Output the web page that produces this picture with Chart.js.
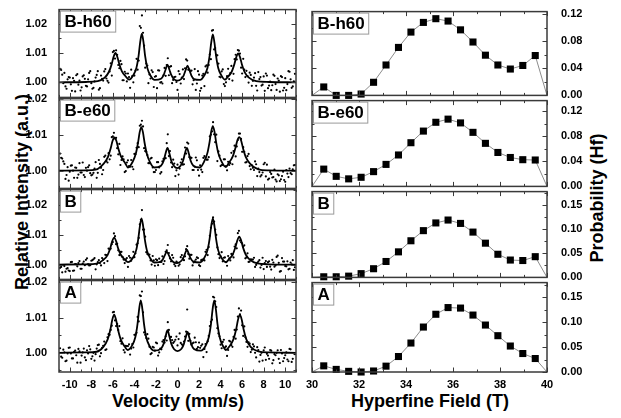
<!DOCTYPE html>
<html>
<head>
<meta charset="utf-8">
<script src="https://cdn.jsdelivr.net/npm/chart.js@4.4.1/dist/chart.umd.min.js"></script>
<style>
  body { margin: 0; background: #fff; font-family: "Liberation Sans", Arial, sans-serif; }
  #page { position: relative; width: 621px; height: 418px; overflow: hidden; }
  canvas { position: absolute; }
  .title { position: absolute; font-weight: bold; font-size: 18px; line-height: 18px; white-space: nowrap; transform: translate(-50%, -50%); }
  .title.rot { transform: translate(-50%, -50%) rotate(-90deg); }
</style>
</head>
<body>
<div id="page">
  <div class="title rot" style="left:22px;top:192px">Relative Intensity (a.u.)</div>
  <div class="title rot" style="left:597px;top:198px">Probability (Hf)</div>
  <div class="title" style="left:178px;top:401px">Velocity (mm/s)</div>
  <div class="title" style="left:430px;top:401px">Hyperfine Field (T)</div>
</div>
<script>
Chart.defaults.font.family = '"Liberation Sans", Arial, sans-serif';
Chart.defaults.color = '#000';

// samples, top to bottom
const samples = ['B-h60', 'B-e60', 'B', 'A'];

// Mossbauer spectra: measured points (mm/s, relative intensity), two interleaved channel sets
const velocity = [-10.9,-10.7,-10.5,-10.3,-10.1,-9.9,-9.7,-9.5,-9.3,-9.1,-8.9,-8.7,-8.5,-8.3,-8.1,-7.9,-7.7,-7.5,-7.3,-7.1,
  -6.9,-6.7,-6.5,-6.3,-6.1,-5.9,-5.7,-5.5,-5.3,-5.1,-4.9,-4.7,-4.5,-4.3,-4.1,-3.9,-3.7,-3.5,-3.3,-3.1,
  -2.9,-2.7,-2.5,-2.3,-2.1,-1.9,-1.7,-1.5,-1.3,-1.1,-0.9,-0.7,-0.5,-0.3,-0.1,0.1,0.3,0.5,0.7,0.9,
  1.1,1.3,1.5,1.7,1.9,2.1,2.3,2.5,2.7,2.9,3.1,3.3,3.5,3.7,3.9,4.1,4.3,4.5,4.7,4.9,
  5.1,5.3,5.5,5.7,5.9,6.1,6.3,6.5,6.7,6.9,7.1,7.3,7.5,7.7,7.9,8.1,8.3,8.5,8.7,8.9,
  9.1,9.3,9.5,9.7,9.9,10.1,10.3,10.5,10.7,10.9];
const velocityMid = [-10.8,-10.6,-10.4,-10.2,-10,-9.8,-9.6,-9.4,-9.2,-9,
  -8.8,-8.6,-8.4,-8.2,-8,-7.8,-7.6,-7.4,-7.2,-7,
  -6.8,-6.6,-6.4,-6.2,-6,-5.8,-5.6,-5.4,-5.2,-5,
  -4.8,-4.6,-4.4,-4.2,-4,-3.8,-3.6,-3.4,-3.2,-3,
  -2.8,-2.6,-2.4,-2.2,-2,-1.8,-1.6,-1.4,-1.2,-1,
  -0.8,-0.6,-0.4,-0.2,0,0.2,0.4,0.6,0.8,1,
  1.2,1.4,1.6,1.8,2,2.2,2.4,2.6,2.8,3,
  3.2,3.4,3.6,3.8,4,4.2,4.4,4.6,4.8,5,
  5.2,5.4,5.6,5.8,6,6.2,6.4,6.6,6.8,7,
  7.2,7.4,7.6,7.8,8,8.2,8.4,8.6,8.8,9,
  9.2,9.4,9.6,9.8,10,10.2,10.4,10.6,10.8];

const dotsBh60 = [1.0046,1.0026,1.0032,0.9978,1.0018,0.9993,1.0014,0.9969,1.0028,1.0006,
  0.9983,1.0024,0.9988,1.0010,1.0038,0.9978,1.0003,1.0025,0.9975,1.0023,
  1.0006,1.0045,1.0005,1.0037,1.0023,1.0107,1.0109,1.0059,1.0073,1.0007,
  1.0036,1.0003,1.0018,1.0043,1.0000,1.0040,1.0043,1.0192,1.0228,1.0125,
  1.0064,0.9997,1.0013,1.0035,1.0019,0.9980,1.0040,1.0001,1.0024,1.0022,
  1.0082,1.0053,0.9997,1.0018,1.0001,1.0038,0.9996,1.0044,1.0048,1.0074,
  1.0043,1.0040,1.0007,0.9974,1.0038,0.9971,1.0023,0.9987,1.0058,1.0059,
  1.0079,1.0178,1.0117,1.0092,1.0019,1.0037,0.9994,1.0000,1.0046,1.0031,
  1.0006,1.0079,1.0078,1.0108,1.0050,1.0080,1.0018,1.0021,1.0033,0.9988,
  1.0016,0.9988,1.0035,1.0018,0.9992,0.9971,1.0023,0.9989,0.9973,1.0026,
  0.9994,1.0013,0.9968,1.0018,0.9981,0.9973,1.0038,1.0010,0.9986,1.0029];
const dotsMidBh60 = [1.0042,0.9997,0.9986,1.0010,1.0016,0.9971,1.0005,1.0024,0.9992,0.9972,
  1.0020,1.0012,0.9986,1.0032,0.9997,0.9981,1.0016,1.0038,0.9980,1.0012,
  1.0037,1.0013,0.9999,1.0065,1.0103,1.0081,1.0094,1.0048,1.0062,1.0007,
  1.0030,1.0030,0.9981,1.0021,1.0023,1.0080,1.0074,1.0186,1.0169,1.0050,
  1.0057,1.0027,1.0041,0.9984,1.0021,1.0041,0.9999,0.9996,1.0049,1.0059,
  1.0024,1.0055,1.0008,1.0019,0.9974,1.0028,1.0016,1.0011,1.0078,1.0043,
  1.0038,0.9993,1.0045,0.9996,1.0026,0.9980,1.0029,1.0054,1.0033,1.0095,
  1.0176,1.0112,1.0094,1.0064,1.0017,1.0044,0.9987,1.0021,1.0011,1.0056,
  1.0029,1.0094,1.0110,1.0098,1.0030,1.0043,1.0039,0.9999,1.0025,1.0005,
  1.0031,0.9972,1.0011,0.9989,1.0020,1.0030,0.9980,1.0002,0.9990,1.0022,
  0.9974,1.0006,1.0021,0.9972,1.0014,0.9994,1.0036,0.9981,1.0003];

const dotsBe60 = [1.0048,1.0034,1.0019,0.9988,0.9972,1.0014,1.0000,1.0009,0.9980,1.0021,
  0.9995,0.9988,1.0008,1.0010,0.9993,0.9989,1.0006,0.9980,1.0030,1.0008,
  1.0002,1.0042,1.0023,1.0032,1.0094,1.0106,1.0092,1.0046,1.0016,1.0040,
  0.9996,1.0023,1.0013,1.0030,1.0004,1.0046,1.0077,1.0126,1.0140,1.0063,
  1.0053,1.0021,1.0034,1.0009,0.9996,1.0024,1.0009,0.9996,1.0033,1.0035,
  1.0102,1.0055,1.0010,1.0020,1.0001,0.9989,1.0023,1.0017,1.0065,1.0079,
  1.0038,1.0036,1.0002,1.0037,1.0002,1.0015,0.9996,1.0041,1.0031,1.0038,
  1.0101,1.0136,1.0080,1.0027,1.0042,1.0016,1.0032,1.0013,1.0025,1.0021,
  1.0018,1.0070,1.0068,1.0104,1.0089,1.0066,1.0023,1.0041,1.0013,1.0015,
  1.0002,1.0018,1.0006,0.9984,0.9995,1.0022,1.0017,0.9978,0.9991,0.9982,
  0.9975,0.9990,0.9971,0.9985,0.9974,1.0002,0.9982,0.9993,1.0004,1.0016];
const dotsMidBe60 = [1.0036,1.0026,0.9977,1.0010,0.9997,1.0015,0.9980,1.0008,0.9989,0.9995,
  1.0023,0.9982,1.0000,1.0015,0.9987,0.9994,1.0024,0.9994,1.0019,0.9990,
  1.0039,1.0027,1.0049,1.0042,1.0096,1.0090,1.0063,1.0075,1.0030,1.0032,
  0.9999,1.0029,1.0011,1.0011,1.0047,1.0064,1.0066,1.0129,1.0124,1.0055,
  1.0044,1.0021,1.0036,0.9996,1.0002,1.0024,0.9992,1.0026,1.0034,1.0077,
  1.0041,1.0023,1.0031,0.9985,1.0017,1.0006,1.0032,1.0018,1.0048,1.0076,
  1.0037,1.0002,1.0011,1.0029,0.9986,1.0003,1.0036,1.0037,1.0031,1.0096,
  1.0110,1.0102,1.0101,1.0054,1.0013,1.0016,1.0032,1.0001,1.0016,1.0050,
  1.0055,1.0040,1.0086,1.0104,1.0053,1.0053,1.0024,1.0047,1.0004,1.0008,
  1.0026,0.9985,0.9996,0.9988,1.0018,0.9984,0.9975,0.9996,0.9981,1.0003,
  0.9970,0.9987,0.9976,0.9997,0.9969,0.9992,1.0006,0.9990,1.0015];

const dotsB = [0.9989,0.9974,0.9995,0.9986,0.9980,1.0008,0.9979,1.0002,0.9994,1.0012,
  0.9986,1.0010,1.0016,1.0001,0.9998,1.0015,1.0022,1.0001,1.0015,0.9997,
  1.0017,1.0033,1.0012,1.0051,1.0069,1.0105,1.0069,1.0048,1.0043,1.0026,
  1.0005,1.0022,1.0029,1.0013,1.0043,1.0038,1.0072,1.0136,1.0184,1.0118,
  1.0042,1.0033,1.0014,1.0029,0.9996,1.0015,1.0020,1.0009,1.0002,1.0043,
  1.0066,1.0021,1.0032,1.0001,1.0010,0.9996,1.0025,1.0020,1.0028,1.0062,
  1.0020,1.0033,1.0007,1.0017,1.0022,0.9995,1.0017,1.0014,1.0050,1.0059,
  1.0124,1.0159,1.0118,1.0058,1.0022,1.0042,1.0023,1.0008,1.0029,1.0014,
  1.0034,1.0061,1.0055,1.0114,1.0075,1.0061,1.0021,1.0038,1.0010,1.0017,
  1.0023,0.9999,1.0010,0.9990,1.0023,1.0005,0.9992,1.0011,0.9983,1.0007,
  0.9997,1.0030,0.9976,1.0022,1.0010,0.9994,0.9984,1.0007,1.0015,0.9991];
const dotsMidB = [0.9992,0.9998,0.9976,0.9988,0.9978,1.0009,0.9980,1.0001,1.0005,0.9986,
  1.0003,0.9998,1.0021,0.9997,1.0013,1.0018,0.9984,1.0008,1.0005,1.0022,
  1.0005,1.0032,1.0054,1.0054,1.0076,1.0096,1.0070,1.0032,1.0043,1.0017,
  1.0018,0.9992,1.0023,1.0021,1.0025,1.0067,1.0090,1.0151,1.0118,1.0094,
  1.0036,1.0034,1.0000,1.0014,1.0018,0.9998,1.0009,1.0028,1.0012,1.0048,
  1.0039,1.0011,1.0023,0.9995,1.0007,1.0001,1.0032,1.0015,1.0052,1.0036,
  1.0033,0.9997,1.0011,1.0024,0.9998,1.0015,1.0016,1.0043,1.0032,1.0097,
  1.0138,1.0145,1.0100,1.0035,1.0028,1.0011,1.0024,0.9996,1.0021,1.0036,
  1.0024,1.0068,1.0106,1.0081,1.0072,1.0065,1.0024,1.0009,1.0018,1.0017,
  0.9992,1.0006,1.0015,0.9999,0.9985,1.0012,1.0008,0.9993,1.0016,0.9993,
  1.0026,1.0006,0.9978,1.0010,0.9995,1.0011,0.9986,1.0001,0.9982];

const dotsA = [1.0013,0.9986,1.0001,0.9978,1.0014,0.9998,0.9984,1.0006,0.9972,1.0004,
  0.9992,1.0012,0.9979,0.9998,1.0010,0.9990,0.9978,1.0012,1.0023,0.9999,
  1.0020,1.0008,1.0044,1.0051,1.0077,1.0116,1.0076,1.0065,1.0033,1.0041,
  1.0001,1.0019,1.0024,1.0012,1.0015,1.0052,1.0102,1.0163,1.0174,1.0058,
  1.0042,1.0040,0.9996,1.0017,1.0006,1.0027,1.0001,1.0010,1.0036,1.0047,
  1.0087,1.0045,1.0036,1.0032,1.0046,1.0039,1.0028,1.0021,1.0046,1.0123,
  1.0054,1.0023,1.0029,1.0030,1.0016,1.0014,1.0024,1.0011,1.0002,1.0048,
  1.0088,1.0159,1.0146,1.0070,1.0047,1.0013,1.0037,1.0018,1.0008,1.0032,
  1.0017,1.0065,1.0066,1.0126,1.0120,1.0048,1.0044,1.0017,1.0026,1.0009,
  1.0018,0.9987,1.0008,0.9994,0.9978,1.0015,0.9997,0.9983,1.0006,0.9979,
  0.9993,1.0007,0.9971,0.9998,0.9985,1.0001,0.9976,1.0010,0.9983,0.9996];
const dotsMidA = [0.9989,1.0009,0.9976,0.9998,1.0015,0.9984,1.0003,0.9993,1.0011,0.9972,
  1.0001,0.9987,1.0007,1.0019,0.9983,1.0000,0.9996,1.0022,0.9990,1.0014,
  1.0032,1.0010,1.0053,1.0065,1.0115,1.0092,1.0082,1.0076,1.0026,1.0008,
  1.0020,1.0019,0.9995,1.0025,1.0051,1.0057,1.0089,1.0161,1.0115,1.0051,
  1.0053,1.0017,0.9999,1.0015,1.0029,0.9992,1.0012,1.0032,1.0029,1.0035,
  1.0065,1.0045,1.0028,1.0037,1.0021,1.0055,1.0024,1.0032,1.0060,1.0034,
  1.0034,1.0027,1.0043,1.0011,1.0029,1.0020,0.9988,1.0025,1.0033,1.0076,
  1.0094,1.0157,1.0130,1.0055,1.0023,1.0031,1.0015,0.9991,1.0034,1.0022,
  1.0045,1.0040,1.0103,1.0109,1.0078,1.0075,1.0031,1.0030,1.0002,1.0024,
  1.0000,1.0016,0.9975,1.0000,1.0007,0.9980,0.9992,1.0008,0.9970,0.9996,
  1.0000,0.9983,1.0008,0.9976,0.9993,0.9981,1.0011,0.9974,0.9998];

// fitted sextets
const fitVelBh60 = [-11,-8.5,-7.4,-6.76,-6.36,-6.11,-5.94,-5.76,-5.58,-5.41,-5.16,-4.76,-4.5,-4.11,-3.81,-3.61,-3.46,-3.31,-3.16,-3.01,
  -2.81,-2.51,-2.12,-1.53,-1.28,-1.11,-0.93,-0.75,-0.58,-0.33,0,0.33,0.58,0.75,0.93,1.11,1.28,1.53,2.1,2.48,
  2.78,2.98,3.13,3.28,3.43,3.58,3.78,4.08,4.4,4.63,5.03,5.28,5.45,5.63,5.81,5.98,6.23,6.63,7.3,8.5,11];
const fitIntBh60 = [1,1.0001,1.0004,1.0016,1.0036,1.0062,1.0086,1.0100,1.0086,1.0063,1.0037,1.0018,1.0009,1.0024,1.0050,1.0091,1.0138,1.0166,1.0138,1.0091,
  1.0050,1.0023,1.0008,1.0012,1.0025,1.0043,1.0060,1.0043,1.0025,1.0011,1.0006,1.0011,1.0024,1.0041,1.0057,1.0041,1.0024,1.0011,1.0008,1.0023,
  1.0049,1.0090,1.0135,1.0163,1.0135,1.0090,1.0049,1.0023,1.0009,1.0017,1.0036,1.0062,1.0085,1.0099,1.0085,1.0061,1.0035,1.0016,1.0004,1.0001,1];

const fitVelBe60 = [-11,-8.5,-7.6,-6.85,-6.45,-6.2,-6.03,-5.85,-5.67,-5.5,-5.25,-4.85,-4.6,-4.16,-3.86,-3.66,-3.51,-3.36,-3.21,-3.06,
  -2.86,-2.56,-2.15,-1.53,-1.28,-1.11,-0.93,-0.75,-0.58,-0.33,-0.03,0.27,0.52,0.69,0.87,1.05,1.22,1.47,2.07,2.48,
  2.78,2.98,3.13,3.28,3.43,3.58,3.78,4.08,4.5,4.73,5.13,5.38,5.55,5.73,5.91,6.08,6.33,6.73,7.5,8.5,11];
const fitIntBe60 = [1,1.0001,1.0003,1.0020,1.0039,1.0063,1.0083,1.0093,1.0083,1.0063,1.0040,1.0021,1.0009,1.0025,1.0049,1.0079,1.0108,1.0122,1.0108,1.0079,
  1.0049,1.0024,1.0009,1.0014,1.0028,1.0048,1.0064,1.0048,1.0028,1.0013,1.0007,1.0013,1.0028,1.0048,1.0064,1.0048,1.0028,1.0014,1.0009,1.0026,
  1.0050,1.0081,1.0110,1.0125,1.0110,1.0081,1.0050,1.0026,1.0010,1.0020,1.0040,1.0064,1.0084,1.0094,1.0084,1.0063,1.0039,1.0020,1.0004,1.0001,1];

const fitVelB = [-11,-8.5,-7.5,-6.88,-6.48,-6.23,-6.06,-5.88,-5.7,-5.53,-5.28,-4.88,-4.6,-4.14,-3.84,-3.64,-3.49,-3.34,-3.19,-3.04,
  -2.84,-2.54,-2.17,-1.59,-1.34,-1.17,-0.99,-0.81,-0.64,-0.39,-0.06,0.27,0.52,0.69,0.87,1.05,1.22,1.47,2.07,2.48,
  2.78,2.98,3.13,3.28,3.43,3.58,3.78,4.08,4.5,4.73,5.13,5.38,5.55,5.73,5.91,6.08,6.33,6.73,7.4,8.5,11];
const fitIntB = [1,1.0001,1.0003,1.0016,1.0033,1.0057,1.0079,1.0091,1.0079,1.0057,1.0034,1.0016,1.0008,1.0023,1.0048,1.0087,1.0130,1.0156,1.0130,1.0087,
  1.0048,1.0022,1.0007,1.0009,1.0019,1.0032,1.0044,1.0032,1.0019,1.0009,1.0005,1.0010,1.0021,1.0036,1.0050,1.0036,1.0021,1.0010,1.0007,1.0022,
  1.0048,1.0087,1.0130,1.0156,1.0130,1.0087,1.0048,1.0023,1.0008,1.0016,1.0034,1.0059,1.0081,1.0094,1.0081,1.0058,1.0034,1.0016,1.0004,1.0001,1];

const fitVelA = [-11,-8.5,-7.5,-6.88,-6.48,-6.23,-6.06,-5.88,-5.7,-5.53,-5.28,-4.88,-4.62,-4.21,-3.91,-3.71,-3.56,-3.41,-3.26,-3.11,
  -2.91,-2.61,-2.17,-1.53,-1.28,-1.11,-0.93,-0.75,-0.58,-0.33,0,0.33,0.58,0.75,0.93,1.11,1.28,1.53,2.17,2.61,
  2.91,3.11,3.26,3.41,3.56,3.71,3.91,4.21,4.5,4.79,5.19,5.44,5.61,5.79,5.97,6.14,6.39,6.79,7.5,8.5,11];
const fitIntA = [1,1.0001,1.0003,1.0017,1.0038,1.0066,1.0093,1.0108,1.0093,1.0067,1.0039,1.0017,1.0008,1.0021,1.0045,1.0082,1.0124,1.0149,1.0124,1.0082,
  1.0045,1.0020,1.0006,1.0012,1.0026,1.0046,1.0064,1.0046,1.0026,1.0011,1.0005,1.0010,1.0024,1.0042,1.0059,1.0042,1.0024,1.0011,1.0006,1.0020,
  1.0045,1.0082,1.0124,1.0149,1.0124,1.0082,1.0045,1.0020,1.0008,1.0017,1.0038,1.0066,1.0093,1.0108,1.0093,1.0066,1.0038,1.0017,1.0004,1.0001,1];

// hyperfine field distributions (T, probability); first and last are the line ends
const field = [30,30.5,31.03,31.56,32.09,32.62,33.15,33.68,34.21,34.74,35.27,35.79,36.32,36.85,37.38,37.91,38.44,38.97,39.5,40];
const probBh60 = [0,0.0125,0.0,0.0,0.002,0.0194,0.045,0.071,0.0937,0.108,0.1135,0.110,0.097,0.079,0.0595,0.045,0.039,0.0443,0.059,0];
const probBe60 = [0,0.0275,0.016,0.012,0.0145,0.0235,0.035,0.050,0.0695,0.088,0.102,0.107,0.101,0.086,0.0685,0.054,0.046,0.0425,0.042,0];
const probB = [0,0.0013,0.0013,0.0026,0.0078,0.018,0.033,0.053,0.076,0.097,0.113,0.119,0.112,0.094,0.071,0.048,0.036,0.035,0.043,0];
const probA = [0,0.0123,0.0052,0.0013,0.0,0.002,0.0117,0.031,0.058,0.090,0.1156,0.129,0.128,0.114,0.094,0.0727,0.052,0.037,0.027,0];

const velocityTicks = [-10,-8,-6,-4,-2,0,2,4,6,8,10];
const fieldTicks = [30,32,34,36,38,40];
const intensityTicks = [1.00,1.01,1.02];
const probTicksFine = [0,0.04,0.08,0.12];
const probTicksCoarse = [0,0.05,0.10,0.15];

const dots = [dotsBh60, dotsBe60, dotsB, dotsA];
const dotsMid = [dotsMidBh60, dotsMidBe60, dotsMidB, dotsMidA];
const fits = [[fitVelBh60, fitIntBh60], [fitVelBe60, fitIntBe60], [fitVelB, fitIntB], [fitVelA, fitIntA]];
const probs = [probBh60, probBe60, probB, probA];

// axis ranges and panel edges (px) measured on the figure
const intensityRange = [[0.99485, 1.0248], [0.99504, 1.0202], [0.995, 1.0253], [0.99455, 1.0205]];
const probMax = [0.124, 0.1365, 0.178, 0.179];
const edges = [9, 98, 189, 280, 372];
const font = { weight: 'bold', size: 11 };

function marks(min, max, step, major) {
  const out = [];
  for (let n = Math.ceil(min / step - 1e-6); n * step <= max + 1e-9; n++) {
    const v = n * step;
    out.push([v, Math.abs(v / major - Math.round(v / major)) < 1e-6 ? 4.5 : 2.5]);
  }
  return out;
}

// box, inward ticks on all four sides and the sample tag
const framePlugin = {
  id: 'frame',
  afterDatasetsDraw(chart, args, o) {
    const { ctx, chartArea: a, scales: { x, y } } = chart;
    ctx.save();
    ctx.strokeStyle = '#3a3a3a';
    ctx.lineWidth = 1;
    ctx.beginPath();
    marks(x.min, x.max, o.xStep, o.xMajor).forEach(([v, len]) => {
      const p = Math.round(x.getPixelForValue(v)) + 0.5;
      ctx.moveTo(p, a.top); ctx.lineTo(p, a.top + len);
      ctx.moveTo(p, a.bottom); ctx.lineTo(p, a.bottom - len);
    });
    marks(y.min, y.max, o.yStep, o.yMajor).forEach(([v, len]) => {
      const p = Math.round(y.getPixelForValue(v)) + 0.5;
      ctx.moveTo(a.left, p); ctx.lineTo(a.left + len, p);
      ctx.moveTo(a.right, p); ctx.lineTo(a.right - len, p);
    });
    ctx.stroke();
    ctx.lineWidth = 1.5;
    ctx.strokeRect(a.left, a.top, a.right - a.left, a.bottom - a.top);

    ctx.font = 'bold 17px "Liberation Sans", Arial, sans-serif';
    const w = ctx.measureText(o.tag).width + 8;
    ctx.fillStyle = '#fff';
    ctx.fillRect(a.left + 1.5, a.top + 1.5, w, 21);
    ctx.strokeStyle = '#9a9a9a';
    ctx.lineWidth = 1;
    ctx.strokeRect(a.left + 1.5, a.top + 1.5, w, 21);
    ctx.fillStyle = '#000';
    ctx.textBaseline = 'middle';
    ctx.fillText(o.tag, a.left + 5.5, a.top + 12.5);
    ctx.restore();
  }
};

function addCanvas(left, top, width, height) {
  const c = document.createElement('canvas');
  c.width = width; c.height = height;
  c.style.left = left + 'px'; c.style.top = top + 'px';
  c.style.width = width + 'px'; c.style.height = height + 'px';
  document.getElementById('page').appendChild(c);
  return c;
}

const dotStyle = { showLine: false, pointRadius: 1.1, pointBorderWidth: 0, pointBackgroundColor: '#000' };

samples.forEach((tag, i) => {
  const top = edges[i], bottom = edges[i + 1], last = i === 3;
  const h = bottom - top + 10 + (last ? 36 : 10);
  const pad = (left, right) => ({ top: 10, right, bottom: last ? 0 : 10, left });
  const xAxis = (min, max, ticks) => ({
    type: 'linear', min, max,
    grid: { display: false }, border: { display: false },
    ticks: { display: last, font, padding: -2, maxRotation: 0, autoSkip: false },
    afterBuildTicks: s => { s.ticks = ticks.map(value => ({ value })); },
    afterFit: s => { s.height = last ? 36 : 0; }
  });
  const base = { responsive: false, animation: false, events: [] };

  // left: spectrum
  new Chart(addCanvas(0, top - 10, 300, h), {
    type: 'line',
    data: {
      datasets: [
        {
          data: fits[i][0].map((x, k) => ({ x, y: fits[i][1][k] })),
          borderColor: '#000', borderWidth: 1.8, pointRadius: 0,
          cubicInterpolationMode: 'monotone'
        },
        { data: velocity.map((x, k) => ({ x, y: dots[i][k] })), ...dotStyle },
        { data: velocityMid.map((x, k) => ({ x, y: dotsMid[i][k] })), ...dotStyle }
      ]
    },
    options: {
      ...base,
      layout: { padding: pad(0, 4) },
      plugins: {
        legend: { display: false }, tooltip: { enabled: false },
        frame: { tag, xStep: 1, xMajor: 2, yStep: 0.005, yMajor: 0.01 }
      },
      scales: {
        x: xAxis(-11, 11, velocityTicks),
        y: {
          min: intensityRange[i][0], max: intensityRange[i][1],
          grid: { display: false }, border: { display: false },
          ticks: { font, padding: 4, callback: v => v.toFixed(2) },
          afterBuildTicks: s => { s.ticks = intensityTicks.map(value => ({ value })); },
          afterFit: s => { s.width = 59; }
        }
      }
    },
    plugins: [framePlugin]
  });

  // right: field distribution
  const fine = i < 2;
  new Chart(addCanvas(300, top - 10, 321, h), {
    type: 'line',
    data: {
      datasets: [{
        data: field.map((x, k) => ({ x, y: probs[i][k] })),
        borderColor: '#8c8c8c', borderWidth: 1, tension: 0, clip: false,
        pointStyle: 'rect',
        pointRadius: c => (c.dataIndex === 0 || c.dataIndex === field.length - 1) ? 0 : 5,
        pointBorderWidth: 0, pointBackgroundColor: '#000'
      }]
    },
    options: {
      ...base,
      layout: { padding: pad(12, 0) },
      plugins: {
        legend: { display: false }, tooltip: { enabled: false },
        frame: { tag, xStep: 1, xMajor: 2, yStep: fine ? 0.02 : 0.025, yMajor: fine ? 0.04 : 0.05 }
      },
      scales: {
        x: xAxis(30, 40, fieldTicks),
        y: {
          position: 'right', min: 0, max: probMax[i],
          grid: { display: false }, border: { display: false },
          ticks: { font, padding: 6, callback: v => v.toFixed(2) },
          afterBuildTicks: s => { s.ticks = (fine ? probTicksFine : probTicksCoarse).map(value => ({ value })); },
          afterFit: s => { s.width = 74; }
        }
      }
    },
    plugins: [framePlugin]
  });
});
</script>
</body>
</html>
